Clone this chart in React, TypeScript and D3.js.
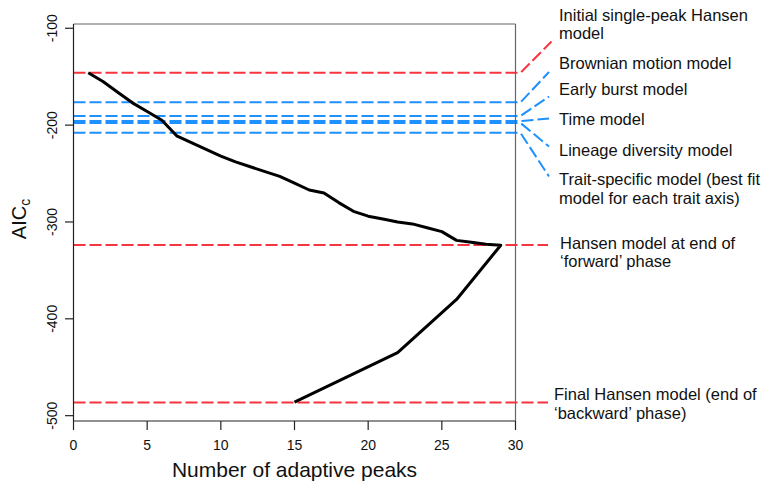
import React from "react";
import * as d3 from "d3";

// Forward + backward phase of the stepwise search: number of peaks vs AICc
const peaks = [1, 2, 3, 4, 5, 6, 7, 8, 9, 10, 11, 12, 13, 14, 15, 16, 17, 18, 19, 20, 21, 22, 23, 24, 25, 26, 27, 28, 29, 26, 22, 15];
const aicc = [-146, -155, -166, -177, -186, -195, -211, -218, -225, -232, -238, -243, -248, -253, -260, -267, -270, -280, -289, -294, -297, -300, -302, -306, -310, -319, -321, -323, -324, -380, -435, -486];

// Reference models
const modelNames = [
  "Initial single-peak Hansen model",
  "Brownian motion model",
  "Early burst model",
  "Time model",
  "Lineage diversity model",
  "Trait-specific model",
  "Hansen model at end of forward phase",
  "Final Hansen model",
];
const modelAicc = [-146, -176.5, -190.5, -195.8, -197.8, -208, -323.7, -486.5];
const modelKind = ["red", "blue", "blue", "blue", "blue", "blue", "red", "red"];
const labelLines = [
  ["Initial single-peak Hansen", "model"],
  ["Brownian motion model"],
  ["Early burst model"],
  ["Time model"],
  ["Lineage diversity model"],
  ["Trait-specific model (best fit", "model for each trait axis)"],
  ["Hansen model at end of", "\u2018forward\u2019 phase"],
  ["Final Hansen model (end of", "\u2018backward\u2019 phase)"],
];

const xTicks = [0, 5, 10, 15, 20, 25, 30];
const yTicks = [-100, -200, -300, -400, -500];

// layout (annotation placement)
const connEnd = [
  [551.5, 41.5],
  [549, 72],
  [549, 96.5],
  [549, 118.5],
  [549, 146.5],
  [549, 176.5],
  [548, 0],
  [548, 0],
];
const labelX = [559, 559, 559, 559, 559, 559, 560, 554];
const labelBaseline = [20.5, 68.5, 94.5, 125, 156, 185, 248.5, 400];

const W = 762;
const H = 483;
const L = 73.5;
const R = 515.5;
const T = 24;
const B = 421;
const RED = "#F7333F";
const BLUE = "#1E90FF";
const FONT = "'Liberation Sans', Arial, Helvetica, sans-serif";

export default function App() {
  const x = d3.scaleLinear().domain([0, 30]).range([L, R]);
  const y = d3.scaleLinear().domain([-505.5, -95.6]).range([B, T]);
  const line = d3
    .line<number>()
    .x((_, i) => x(peaks[i]))
    .y((d) => y(d));

  return (
    <div style={{ position: "absolute", left: 0, top: 0 }}>
      <svg width={W} height={H} style={{ display: "block", background: "#fff" }} fontFamily={FONT}>
        {/* reference lines + connectors */}
        {modelAicc.map((v, i) => {
          const yy = y(v);
          const [ex, ey0] = connEnd[i];
          const ey = modelKind[i] === "red" && i > 0 ? yy : ey0;
          const brk = i > 0 && modelKind[i] === "red" ? ex : R + 5;
          const d = `M${L},${yy}L${brk},${yy}L${ex},${ey}`;
          return (
            <path
              key={i}
              d={d}
              fill="none"
              stroke={modelKind[i] === "red" ? RED : BLUE}
              strokeWidth={2}
              strokeDasharray="12 4"
            />
          );
        })}
        {/* search path */}
        <path d={line(aicc) || ""} fill="none" stroke="#000" strokeWidth={3} strokeLinejoin="round" />
        {/* box */}
        <line x1={L} x2={R} y1={T} y2={T} stroke="#666" strokeWidth={1.2} />
        <line x1={R} x2={R} y1={T} y2={B} stroke="#666" strokeWidth={1.2} />
        <line x1={L} x2={L} y1={T} y2={B} stroke="#222" strokeWidth={1.2} />
        <line x1={L} x2={R} y1={B} y2={B} stroke="#222" strokeWidth={1.2} />
        {/* x axis */}
        {xTicks.map((t) => (
          <g key={t}>
            <line x1={x(t)} x2={x(t)} y1={B} y2={B + 9} stroke="#222" strokeWidth={1.2} />
            <text x={x(t)} y={449.5} textAnchor="middle" fontSize={14} fill="#111">
              {t}
            </text>
          </g>
        ))}
        <text x={(L + R) / 2} y={476.5} textAnchor="middle" fontSize={21} fill="#111">
          Number of adaptive peaks
        </text>
        {/* y axis */}
        {yTicks.map((t) => (
          <g key={t}>
            <line x1={L - 8.5} x2={L} y1={y(t)} y2={y(t)} stroke="#222" strokeWidth={1.2} />
            <text
              transform={`translate(57,${y(t)}) rotate(-90)`}
              textAnchor="middle"
              fontSize={14}
              fill="#111"
            >
              {t}
            </text>
          </g>
        ))}
        <text transform={`translate(26,219) rotate(-90)`} textAnchor="middle" fontSize={20} fill="#111">
          AIC
          <tspan fontSize={14} dy={4}>
            c
          </tspan>
        </text>
        {/* model labels */}
        {labelLines.map((lines, i) => (
          <text key={i} x={labelX[i]} y={labelBaseline[i]} fontSize={16.5} fill="#111">
            {lines.map((s, j) => (
              <tspan key={j} x={labelX[i]} dy={j === 0 ? 0 : 18.7}>
                {s}
              </tspan>
            ))}
          </text>
        ))}
      </svg>
    </div>
  );
}
